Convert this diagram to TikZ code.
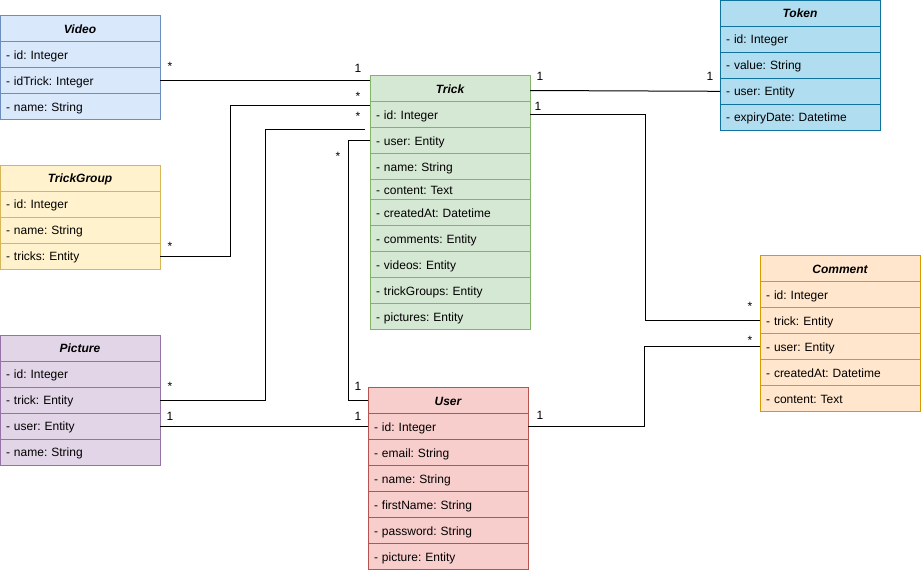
\documentclass[tikz,border=0pt]{standalone}
\usepackage{fontspec}
\setmainfont{Liberation Sans}
\usetikzlibrary{positioning}
\frenchspacing

\definecolor{videofill}{HTML}{DAE8FC}
\definecolor{videoline}{HTML}{6C8EBF}
\definecolor{groupfill}{HTML}{FFF2CC}
\definecolor{groupline}{HTML}{D6B656}
\definecolor{picfill}{HTML}{E1D5E7}
\definecolor{picline}{HTML}{9673A6}
\definecolor{trickfill}{HTML}{D5E8D4}
\definecolor{trickline}{HTML}{82B366}
\definecolor{userfill}{HTML}{F8CECC}
\definecolor{userline}{HTML}{B85450}
\definecolor{tokenfill}{HTML}{B1DDF0}
\definecolor{tokenline}{HTML}{10739E}
\definecolor{commentfill}{HTML}{FFE6CC}
\definecolor{commentline}{HTML}{D79B00}

\begin{document}
\begin{tikzpicture}[x=1pt, y=-1pt, line width=1pt,
    title/.style={draw, minimum width=160pt, minimum height=26pt, outer sep=0pt, inner sep=2pt,
        text height=11pt, text depth=2pt, font=\fontsize{12}{14}\selectfont\frenchspacing\bfseries\itshape},
    field/.style={draw, minimum height=26pt, outer sep=0pt, inner xsep=6pt, inner ysep=2pt,
        text width=148pt, align=left, text height=11pt, text depth=2pt, font=\fontsize{12}{14}\selectfont\frenchspacing},
    link/.style={draw=black, line width=1pt},
    mult/.style={inner sep=0pt, text height=8.6pt, text depth=0pt, font=\fontsize{12}{14}\selectfont}
]
\useasboundingbox (0,0) rectangle (921,573);

% Video
\node[title, fill=videofill, draw=videoline] (video) at (80,28.5) {Video};
\node[field, fill=videofill, draw=videoline, below=0 of video] (video-id) {- id: Integer};
\node[field, fill=videofill, draw=videoline, below=0 of video-id] (video-idtrick) {- idTrick: Integer};
\node[field, fill=videofill, draw=videoline, below=0 of video-idtrick] (video-name) {- name: String};

% TrickGroup
\node[title, fill=groupfill, draw=groupline] (tg) at (80,178.3) {TrickGroup};
\node[field, fill=groupfill, draw=groupline, below=0 of tg] (tg-id) {- id: Integer};
\node[field, fill=groupfill, draw=groupline, below=0 of tg-id] (tg-name) {- name: String};
\node[field, fill=groupfill, draw=groupline, below=0 of tg-name] (tg-tricks) {- tricks: Entity};

% Picture
\node[title, fill=picfill, draw=picline] (pic) at (80,348.3) {Picture};
\node[field, fill=picfill, draw=picline, below=0 of pic] (pic-id) {- id: Integer};
\node[field, fill=picfill, draw=picline, below=0 of pic-id] (pic-trick) {- trick: Entity};
\node[field, fill=picfill, draw=picline, below=0 of pic-trick] (pic-user) {- user: Entity};
\node[field, fill=picfill, draw=picline, below=0 of pic-user] (pic-name) {- name: String};

% Trick
\node[title, fill=trickfill, draw=trickline] (trick) at (450,88.5) {Trick};
\node[field, fill=trickfill, draw=trickline, below=0 of trick] (trick-id) {- id: Integer};
\node[field, fill=trickfill, draw=trickline, below=0 of trick-id] (trick-user) {- user: Entity};
\node[field, fill=trickfill, draw=trickline, below=0 of trick-user] (trick-name) {- name: String};
\node[field, fill=trickfill, draw=trickline, minimum height=20pt, below=0 of trick-name] (trick-content) {- content: Text};
\node[field, fill=trickfill, draw=trickline, below=0 of trick-content] (trick-created) {- createdAt: Datetime};
\node[field, fill=trickfill, draw=trickline, below=0 of trick-created] (trick-comments) {- comments: Entity};
\node[field, fill=trickfill, draw=trickline, below=0 of trick-comments] (trick-videos) {- videos: Entity};
\node[field, fill=trickfill, draw=trickline, below=0 of trick-videos] (trick-groups) {- trickGroups: Entity};
\node[field, fill=trickfill, draw=trickline, below=0 of trick-groups] (trick-pictures) {- pictures: Entity};

% User
\node[title, fill=userfill, draw=userline] (user) at (448,400.7) {User};
\node[field, fill=userfill, draw=userline, below=0 of user] (user-id) {- id: Integer};
\node[field, fill=userfill, draw=userline, below=0 of user-id] (user-email) {- email: String};
\node[field, fill=userfill, draw=userline, below=0 of user-email] (user-name) {- name: String};
\node[field, fill=userfill, draw=userline, below=0 of user-name] (user-first) {- firstName: String};
\node[field, fill=userfill, draw=userline, below=0 of user-first] (user-pass) {- password: String};
\node[field, fill=userfill, draw=userline, below=0 of user-pass] (user-picture) {- picture: Entity};

% Token
\node[title, fill=tokenfill, draw=tokenline] (token) at (800,13.3) {Token};
\node[field, fill=tokenfill, draw=tokenline, below=0 of token] (token-id) {- id: Integer};
\node[field, fill=tokenfill, draw=tokenline, below=0 of token-id] (token-value) {- value: String};
\node[field, fill=tokenfill, draw=tokenline, below=0 of token-value] (token-user) {- user: Entity};
\node[field, fill=tokenfill, draw=tokenline, below=0 of token-user] (token-expiry) {- expiryDate: Datetime};

% Comment
\node[title, fill=commentfill, draw=commentline] (comment) at (840,268.7) {Comment};
\node[field, fill=commentfill, draw=commentline, below=0 of comment] (com-id) {- id: Integer};
\node[field, fill=commentfill, draw=commentline, below=0 of com-id] (com-trick) {- trick: Entity};
\node[field, fill=commentfill, draw=commentline, below=0 of com-trick] (com-user) {- user: Entity};
\node[field, fill=commentfill, draw=commentline, below=0 of com-user] (com-created) {- createdAt: Datetime};
\node[field, fill=commentfill, draw=commentline, below=0 of com-created] (com-content) {- content: Text};

% Links
\draw[link] (video-idtrick.east) -- (video-idtrick.east -| trick.west);
\draw[link] (tg-tricks.east) -- ++(70,0) |- ([yshift=9pt]trick-id.west);
\draw[link] (pic-trick.east) -- ++(105,0) |- ([xshift=-5pt,yshift=11pt]trick-user.west);
\draw[link] (user.west) -- ++(-20,0) |- (trick-user.west);
\draw[link] (pic-user.east) -- (pic-user.east -| user.west);
\draw[link] ([yshift=-2pt]trick.east) -- (token-user.west);
\draw[link] (trick-id.east) -- ++(115,0) |- (com-trick.west);
\draw[link] (user-id.east) -- ++(116,0) |- (com-user.west);

% Multiplicities
\node[mult] (m-video) at (170,66) {*};
\node[mult] (m-video-trick) at (358,68) {1};
\node[mult] (m-tg) at (170,246) {*};
\node[mult] (m-tg-trick) at (358,96) {*};
\node[mult] (m-pic) at (170,386) {*};
\node[mult] (m-pic-trick) at (358,116) {*};
\node[mult] (m-user-trick) at (338,156) {*};
\node[mult] (m-user-top) at (358,386) {1};
\node[mult] (m-pic-user) at (170,416) {1};
\node[mult] (m-user-pic) at (358,416) {1};
\node[mult] (m-trick-token) at (540,76) {1};
\node[mult] (m-token) at (710,76) {1};
\node[mult] (m-trick-com) at (538,106) {1};
\node[mult] (m-com-trick) at (750,306) {*};
\node[mult] (m-user-com) at (540,415) {1};
\node[mult] (m-com-user) at (750,340) {*};

\end{tikzpicture}
\end{document}
